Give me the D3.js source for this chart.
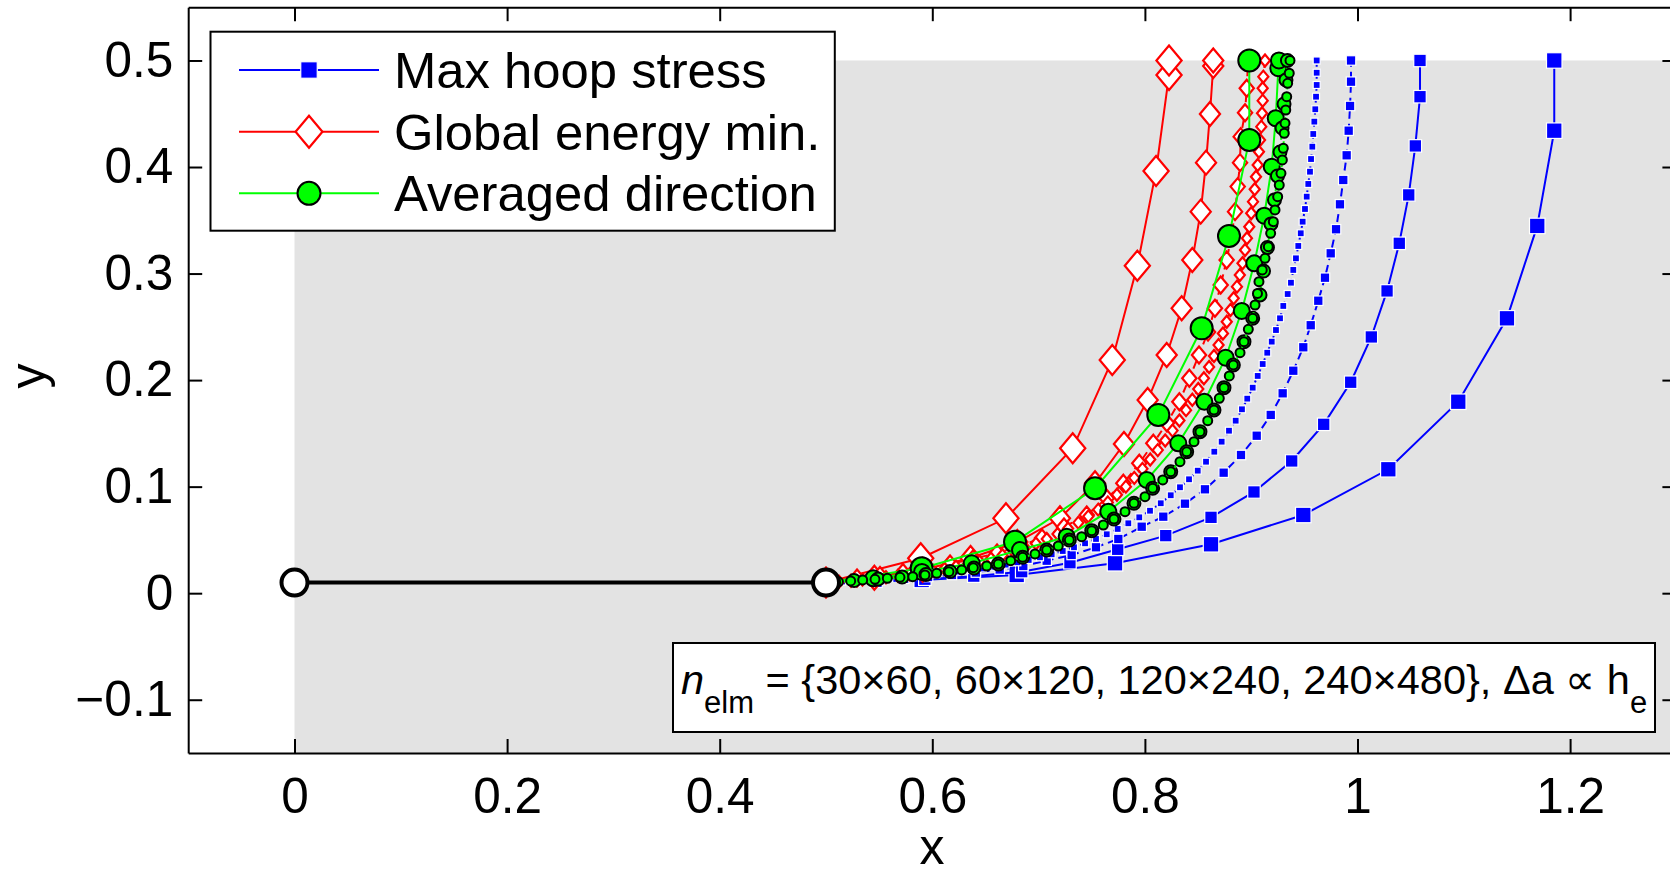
<!DOCTYPE html>
<html><head><meta charset="utf-8">
<script src="https://cdn.jsdelivr.net/npm/d3@7"></script>
<style>
body{margin:0;background:#fff}
svg{display:block}
text{font-family:"Liberation Sans",Arial,Helvetica,sans-serif;fill:#000}
</style></head>
<body><svg id="chart" width="1670" height="874"></svg>
<script>
// ---------------- data ----------------
const xTicks = [0, 0.2, 0.4, 0.6, 0.8, 1, 1.2];
const xTickLabels = ["0", "0.2", "0.4", "0.6", "0.8", "1", "1.2"];
const yTicks = [-0.1, 0, 0.1, 0.2, 0.3, 0.4, 0.5];
const yTickLabels = ["\u22120.1", "0", "0.1", "0.2", "0.3", "0.4", "0.5"];
const seriesNames = ["Max hoop stress", "Global energy min.", "Averaged direction"];
const annotation = "n_elm = {30×60, 60×120, 120×240, 240×480}, Δa ∝ h_e";

const initialCrack = [[0, 0.01], [0.5, 0.01]];

// Max hoop stress (blue squares)
const hoop_30x60 = [[0.5,0.01],[0.590,0.0124],[0.6794,0.0171],[0.7719,0.0281],[0.8622,0.0459],[0.949,0.0734],[1.029,0.1163],[1.0948,0.1797],[1.1406,0.258],[1.1691,0.3447],[1.1851,0.4341],[1.1851,0.5]];
const hoop_60x120 = [[0.5,0.01],[0.547,0.0112],[0.593,0.0131],[0.639,0.016],[0.6841,0.0202],[0.7295,0.0286],[0.7744,0.0412],[0.8196,0.054],[0.8622,0.0712],[0.9026,0.095],[0.9381,0.1241],[0.9682,0.1585],[0.9936,0.198],[1.013,0.2405],[1.0278,0.2837],[1.0393,0.3284],[1.0482,0.3738],[1.0544,0.4198],[1.0588,0.466],[1.0588,0.5]];
const hoop_120x240 = [[0.5,0.01],[0.5285,0.0112],[0.551,0.0123],[0.5735,0.0136],[0.596,0.0152],[0.6185,0.0171],[0.641,0.0194],[0.6634,0.0222],[0.6856,0.0255],[0.7076,0.0305],[0.7311,0.0359],[0.754,0.0431],[0.775,0.0509],[0.797,0.0624],[0.8173,0.0718],[0.8377,0.084],[0.8565,0.0975],[0.8741,0.1131],[0.8904,0.1297],[0.9052,0.1478],[0.9184,0.1673],[0.9296,0.1876],[0.9396,0.2088],[0.949,0.2308],[0.956,0.2515],[0.9631,0.2745],[0.9694,0.2961],[0.9748,0.319],[0.9798,0.3416],[0.9835,0.365],[0.9866,0.3878],[0.9898,0.411],[0.9917,0.4341],[0.993,0.4573],[0.9939,0.4801],[0.9939,0.5]];
const hoop_240x480 = [[0.5,0.01],[0.5151,0.011],[0.5262,0.0117],[0.5373,0.0124],[0.5484,0.0132],[0.5595,0.014],[0.5706,0.0148],[0.5817,0.0157],[0.5927,0.0167],[0.6037,0.0178],[0.6147,0.019],[0.6257,0.0203],[0.6366,0.0217],[0.6475,0.0232],[0.6583,0.0249],[0.669,0.0268],[0.68,0.029],[0.6907,0.0312],[0.7013,0.0337],[0.7123,0.0365],[0.7227,0.0396],[0.7333,0.0431],[0.7437,0.0468],[0.754,0.0509],[0.7641,0.0553],[0.7744,0.0603],[0.7844,0.0656],[0.7947,0.0712],[0.8048,0.0774],[0.8149,0.0844],[0.8243,0.0919],[0.833,0.0994],[0.8415,0.1069],[0.8497,0.115],[0.8575,0.1234],[0.8653,0.1328],[0.8722,0.1422],[0.8791,0.1525],[0.8854,0.1619],[0.8913,0.1726],[0.8963,0.1826],[0.9014,0.1929],[0.9061,0.2039],[0.9108,0.2151],[0.9151,0.2257],[0.9193,0.2361],[0.9233,0.247],[0.9271,0.258],[0.9302,0.2696],[0.9343,0.2808],[0.9374,0.2914],[0.9396,0.3034],[0.9421,0.3143],[0.9443,0.3259],[0.9466,0.3378],[0.9484,0.3487],[0.9506,0.3606],[0.9522,0.3722],[0.9537,0.3841],[0.9553,0.3956],[0.9563,0.4075],[0.9575,0.4191],[0.9584,0.431],[0.9594,0.4426],[0.9603,0.4542],[0.961,0.466],[0.9616,0.477],[0.9616,0.4885],[0.9616,0.5]];

// Global energy minimisation (red diamonds)
const energy_30x60 = [[0.5,0.01],[0.5891,0.0328],[0.6693,0.0703],[0.7321,0.136],[0.7693,0.2189],[0.7929,0.3074],[0.8105,0.3963],[0.8227,0.4864],[0.8227,0.5]];
const energy_60x120 = [[0.5,0.01],[0.5455,0.0145],[0.591,0.022],[0.636,0.033],[0.680,0.048],[0.7201,0.0703],[0.7531,0.1032],[0.7803,0.14],[0.8026,0.1813],[0.8205,0.2236],[0.8346,0.2674],[0.8446,0.3127],[0.8525,0.3581],[0.8575,0.4041],[0.8612,0.4498],[0.8643,0.4948],[0.8643,0.5]];
const energy_120x240 = [[0.5,0.01],[0.5292,0.0143],[0.5508,0.0166],[0.5724,0.0194],[0.5941,0.0227],[0.6167,0.0274],[0.6383,0.0321],[0.6609,0.0377],[0.6825,0.0443],[0.7032,0.0518],[0.7239,0.0621],[0.7453,0.0734],[0.7641,0.0891],[0.7797,0.1032],[0.7947,0.1219],[0.8079,0.1407],[0.8208,0.1598],[0.8324,0.1797],[0.8418,0.2017],[0.8509,0.2236],[0.8594,0.2452],[0.8659,0.2674],[0.8713,0.2893],[0.8769,0.3127],[0.8816,0.3362],[0.8848,0.3581],[0.8873,0.3816],[0.8895,0.4041],[0.8901,0.4285],[0.8942,0.451],[0.8958,0.4739],[0.8971,0.5]];
const energy_240x480 = [[0.5,0.01],[0.5122,0.0108],[0.5235,0.0117],[0.5343,0.0127],[0.5456,0.0138],[0.5564,0.015],[0.5677,0.0163],[0.5786,0.0177],[0.5894,0.0193],[0.6007,0.021],[0.6115,0.0229],[0.6223,0.025],[0.6336,0.0273],[0.6444,0.0298],[0.6552,0.0326],[0.666,0.0356],[0.6766,0.0389],[0.6871,0.0426],[0.6975,0.0466],[0.7077,0.0509],[0.7178,0.0556],[0.7277,0.0607],[0.7374,0.0662],[0.7468,0.0721],[0.7561,0.0784],[0.7651,0.0852],[0.7737,0.0924],[0.7821,0.1],[0.79,0.1082],[0.7977,0.1167],[0.805,0.1254],[0.8121,0.1343],[0.8191,0.1433],[0.826,0.1526],[0.8325,0.1621],[0.8387,0.1718],[0.8446,0.1816],[0.8502,0.1917],[0.8555,0.2017],[0.8604,0.2123],[0.865,0.2226],[0.8693,0.233],[0.8734,0.2438],[0.877,0.2548],[0.8805,0.2658],[0.8835,0.2768],[0.8866,0.2877],[0.8893,0.2987],[0.8918,0.3096],[0.8942,0.3221],[0.896,0.3331],[0.8982,0.344],[0.9,0.3566],[0.9017,0.3675],[0.9033,0.3791],[0.9045,0.3909],[0.9061,0.4019],[0.9073,0.4144],[0.9083,0.4254],[0.9095,0.4379],[0.9102,0.4504],[0.9108,0.4623],[0.9108,0.4739],[0.9114,0.4848],[0.913,0.5]];

// Averaged direction (green circles)
const avg_30x60 = [[0.5,0.01],[0.59,0.0234],[0.6778,0.0483],[0.7531,0.0985],[0.8126,0.1673],[0.8534,0.2486],[0.8791,0.3353],[0.8982,0.4254],[0.8982,0.5]];
const avg_60x120 = [[0.5,0.01],[0.5445,0.014],[0.5903,0.0199],[0.6371,0.0281],[0.6825,0.0405],[0.7264,0.053],[0.7656,0.0765],[0.8017,0.1063],[0.8314,0.1407],[0.8559,0.1797],[0.876,0.221],[0.8911,0.2649],[0.9029,0.3096],[0.9123,0.3543],[0.9193,0.4003],[0.9231,0.4458],[0.9255,0.4927],[0.9261,0.5]];
const avg_120x240 = [[0.5,0.01],[0.5264,0.0119],[0.549,0.0133],[0.5716,0.0152],[0.594,0.0176],[0.6167,0.0204],[0.6392,0.0236],[0.6621,0.0274],[0.685,0.0337],[0.7076,0.0405],[0.7289,0.0499],[0.75,0.0587],[0.7709,0.0696],[0.7897,0.0844],[0.8073,0.0985],[0.8243,0.114],[0.8393,0.1328],[0.8518,0.1516],[0.865,0.172],[0.8744,0.1929],[0.8832,0.2142],[0.8932,0.2361],[0.9014,0.258],[0.9083,0.2799],[0.9116,0.3024],[0.9153,0.3245],[0.9186,0.3466],[0.9219,0.3691],[0.9247,0.3916],[0.9271,0.4141],[0.929,0.4366],[0.9309,0.4592],[0.9327,0.4817],[0.9341,0.5]];
const avg_240x480 = [[0.5,0.01],[0.5117,0.0107],[0.5232,0.0115],[0.5345,0.0124],[0.5461,0.013],[0.5577,0.014],[0.5696,0.0149],[0.5816,0.0155],[0.5931,0.0171],[0.6041,0.0187],[0.6157,0.0202],[0.6277,0.0218],[0.6386,0.0239],[0.6512,0.0255],[0.6621,0.0274],[0.6737,0.0305],[0.685,0.0337],[0.6966,0.0368],[0.7076,0.0405],[0.7185,0.0443],[0.7289,0.0499],[0.7405,0.053],[0.75,0.0587],[0.7609,0.064],[0.7709,0.0696],[0.7813,0.0765],[0.7897,0.0844],[0.8001,0.0906],[0.8073,0.0985],[0.8168,0.1063],[0.8243,0.114],[0.833,0.1234],[0.8393,0.1328],[0.8462,0.1422],[0.8518,0.1516],[0.8591,0.1619],[0.865,0.172],[0.87,0.1829],[0.8744,0.1929],[0.8794,0.2039],[0.8832,0.2142],[0.8895,0.2257],[0.8932,0.2361],[0.8973,0.2477],[0.9014,0.258],[0.9036,0.2705],[0.9059,0.2813],[0.9073,0.2924],[0.9104,0.3034],[0.913,0.3143],[0.9161,0.3252],[0.9183,0.3378],[0.9208,0.3487],[0.9224,0.3597],[0.9249,0.3722],[0.9264,0.3831],[0.928,0.3941],[0.9293,0.4066],[0.9302,0.4176],[0.9311,0.4317],[0.9318,0.4411],[0.9325,0.4535],[0.9334,0.466],[0.9343,0.4786],[0.9358,0.488],[0.9365,0.5]];

// ---------------- drawing ----------------
const svg = d3.select("#chart");
const x = d3.scaleLinear().domain([-0.1, 1.3]).range([188.2, 1676.4]);
const y = d3.scaleLinear().domain([-0.15, 0.55]).range([753, 7.2]);

const BLUE = "#0000ff", RED = "#ff0000", GREEN = "#00ff00";

svg.append("defs").append("clipPath").attr("id", "plotclip")
  .append("rect").attr("x", x(-0.1)).attr("y", y(0.55))
  .attr("width", x(1.3) - x(-0.1)).attr("height", y(-0.15) - y(0.55));

// grey specimen domain
svg.append("rect")
  .attr("x", x(0)).attr("y", y(0.5))
  .attr("width", x(1.3) - x(0)).attr("height", y(-0.15) - y(0.5))
  .attr("fill", "#e3e3e3");

const plot = svg.append("g").attr("clip-path", "url(#plotclip)");
const line = d3.line().x(d => x(d[0])).y(d => y(d[1]));

function drawMarker(g, type, size, cx, cy) {
  if (type === "square") {
    g.append("rect").attr("x", cx - size/2).attr("y", cy - size/2)
      .attr("width", size).attr("height", size)
      .attr("fill", BLUE).attr("stroke", "#ffffff").attr("stroke-width", 1.2);
  } else if (type === "diamond") {
    const w = size * 0.42, h = size * 0.5;
    g.append("path").attr("d", `M${cx},${cy-h}L${cx+w},${cy}L${cx},${cy+h}L${cx-w},${cy}Z`)
      .attr("fill", "#ffffff").attr("stroke", RED).attr("stroke-width", 2.2)
      .attr("stroke-linejoin", "miter");
  } else {
    g.append("circle").attr("cx", cx).attr("cy", cy).attr("r", size/2 - 1)
      .attr("fill", GREEN).attr("stroke", "#000").attr("stroke-width", 2);
  }
}

const series = [
  {data: hoop_30x60, color: BLUE, marker: "square", size: 15.5, dash: null},
  {data: hoop_60x120, color: BLUE, marker: "square", size: 12.5, dash: null},
  {data: hoop_120x240, color: BLUE, marker: "square", size: 9.5, dash: "8,5"},
  {data: hoop_240x480, color: BLUE, marker: "square", size: 7, dash: "2,4"},
  {data: energy_30x60, color: RED, marker: "diamond", size: 30, dash: null},
  {data: energy_60x120, color: RED, marker: "diamond", size: 24, dash: null},
  {data: energy_120x240, color: RED, marker: "diamond", size: 17, dash: "8,5"},
  {data: energy_240x480, color: RED, marker: "diamond", size: 12, dash: "2,4"},
  {data: avg_30x60, color: GREEN, marker: "circle", size: 24, dash: null},
  {data: avg_60x120, color: GREEN, marker: "circle", size: 18, dash: null},
  {data: avg_120x240, color: GREEN, marker: "circle", size: 15, dash: "8,5"},
  {data: avg_240x480, color: GREEN, marker: "circle", size: 11, dash: "2,4"}
];

series.forEach(s => {
  const g = plot.append("g");
  g.append("path").datum(s.data).attr("d", line)
    .attr("fill", "none").attr("stroke", s.color).attr("stroke-width", 2)
    .attr("stroke-dasharray", s.dash);
  s.data.forEach(d => drawMarker(g, s.marker, s.size, x(d[0]), y(d[1])));
});

// initial crack
plot.append("path").datum(initialCrack).attr("d", line)
  .attr("fill", "none").attr("stroke", "#000").attr("stroke-width", 4);
plot.selectAll("circle.tip").data(initialCrack).enter().append("circle")
  .attr("class", "tip").attr("cx", d => x(d[0])).attr("cy", d => y(d[1]))
  .attr("r", 13).attr("fill", "#fff").attr("stroke", "#000").attr("stroke-width", 4);

// ---------------- axes ----------------
const tickFont = 49.5;
function styleAxis(g) {
  g.selectAll("path.domain").attr("stroke", "#000").attr("stroke-width", 2);
  g.selectAll(".tick line").attr("stroke", "#000").attr("stroke-width", 2);
  g.selectAll(".tick text").attr("font-size", tickFont)
    .attr("font-family", '"Liberation Sans",Arial,sans-serif').attr("fill", "#000");
}
const gB = svg.append("g").attr("transform", `translate(0,${y(-0.15)})`)
  .call(d3.axisBottom(x).tickValues(xTicks).tickSize(-14).tickSizeOuter(0).tickPadding(24.5)
    .tickFormat((d, i) => xTickLabels[i]));
styleAxis(gB);
const gL = svg.append("g").attr("transform", `translate(${x(-0.1)},0)`)
  .call(d3.axisLeft(y).tickValues(yTicks).tickSize(-14).tickSizeOuter(0).tickPadding(15)
    .tickFormat((d, i) => yTickLabels[i]));
styleAxis(gL);
const gT = svg.append("g").attr("transform", `translate(0,${y(0.55)})`)
  .call(d3.axisTop(x).tickValues(xTicks).tickSize(-14).tickSizeOuter(0).tickFormat(""));
styleAxis(gT);
const gR = svg.append("g").attr("transform", `translate(${x(1.3)},0)`)
  .call(d3.axisRight(y).tickValues(yTicks).tickSize(-14).tickSizeOuter(0).tickFormat(""));
styleAxis(gR);

svg.append("text").attr("x", 932).attr("y", 864).attr("text-anchor", "middle")
  .attr("font-size", 50).text("x");
svg.append("text").attr("transform", "translate(45,376) rotate(-90)")
  .attr("text-anchor", "middle").attr("font-size", 50).text("y");

// ---------------- legend ----------------
const lg = svg.append("g");
lg.append("rect").attr("x", 210.5).attr("y", 31.7).attr("width", 624.3).attr("height", 199)
  .attr("fill", "#fff").attr("stroke", "#000").attr("stroke-width", 2);
const legendY = [70, 131.7, 193.3];
const legendSpec = [
  {color: BLUE, marker: "square", size: 16.5},
  {color: RED, marker: "diamond", size: 32},
  {color: GREEN, marker: "circle", size: 25}
];
legendSpec.forEach((s, i) => {
  const ly = legendY[i];
  lg.append("line").attr("x1", 239).attr("x2", 379).attr("y1", ly).attr("y2", ly)
    .attr("stroke", s.color).attr("stroke-width", 2);
  drawMarker(lg, s.marker, s.size, 309, ly);
  lg.append("text").attr("x", 394).attr("y", ly + 18).attr("font-size", 50.8).text(seriesNames[i]);
});

// ---------------- annotation ----------------
const an = svg.append("g");
an.append("rect").attr("x", 673).attr("y", 643).attr("width", 982).attr("height", 89)
  .attr("fill", "#fff").attr("stroke", "#000").attr("stroke-width", 2);
const parts = annotation.split("_"); // ["n","elm = {...} ∝ h","e"]
const mainRest = parts[1].slice(3);
const t = an.append("text").attr("x", 681).attr("y", 694).attr("font-size", 41.5);
t.append("tspan").attr("font-style", "italic").text(parts[0]);
t.append("tspan").attr("font-size", 31).attr("dy", 19).text(parts[1].slice(0, 3));
t.append("tspan").attr("dy", -19).text(mainRest);
t.append("tspan").attr("font-size", 31).attr("dy", 19).text(parts[2]);
</script>
</body></html>
